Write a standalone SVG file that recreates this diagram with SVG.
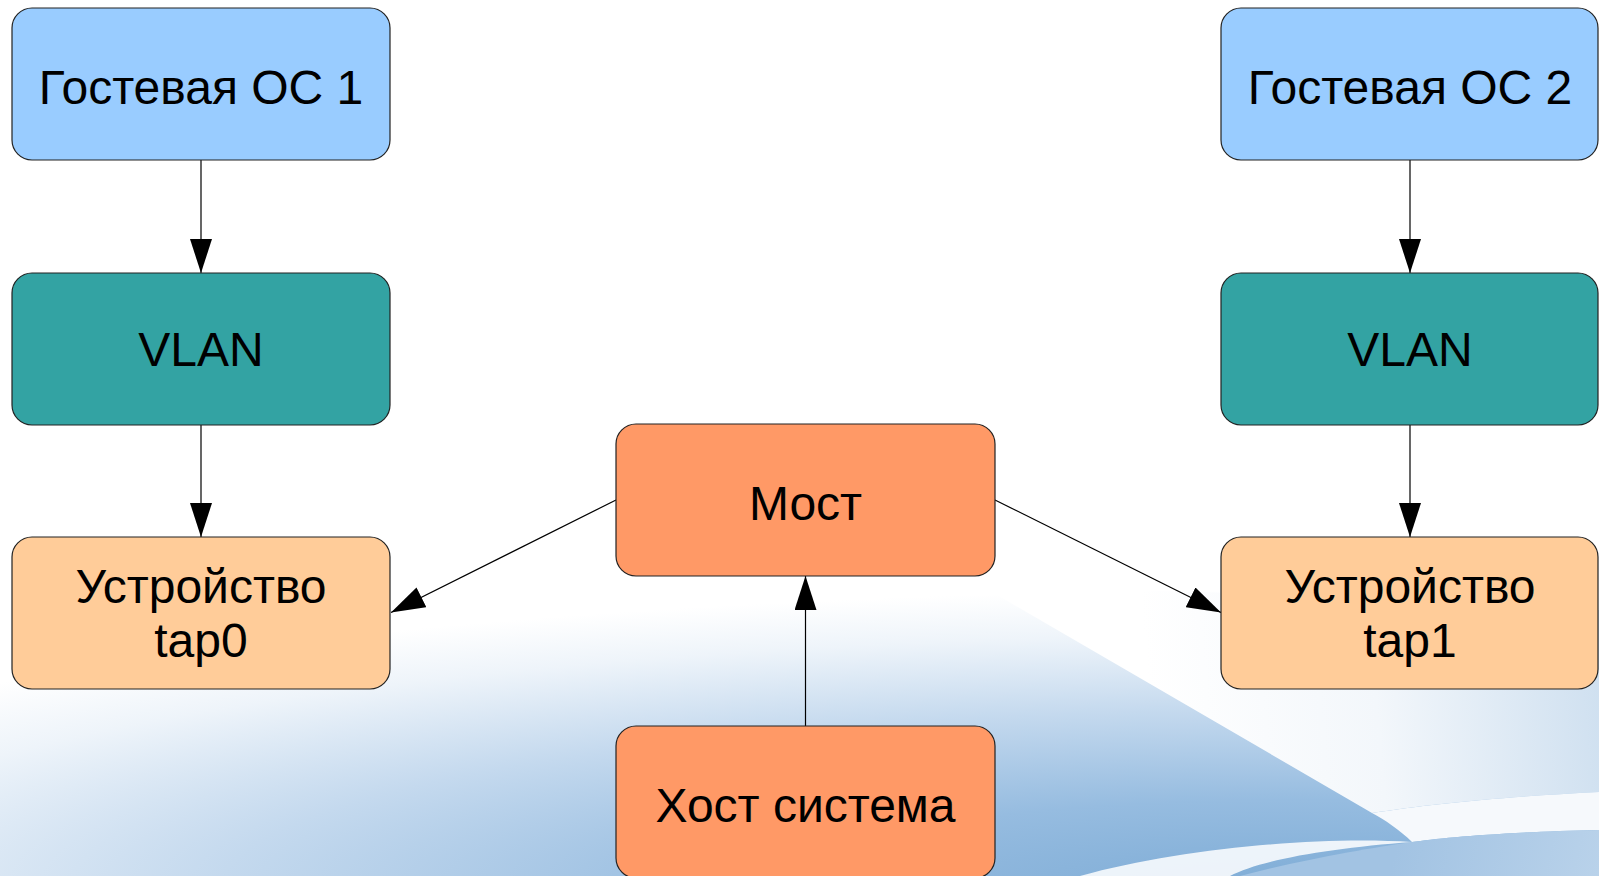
<svg xmlns="http://www.w3.org/2000/svg" width="1599" height="876" viewBox="0 0 1599 876">
<defs>
<style>
.box{stroke:#222;stroke-width:1.2}
.blue{fill:#99ccff}
.teal{fill:#33a3a3}
.lor{fill:#ffcc99}
.or{fill:#ff9966}
.lbl{font-family:"Liberation Sans",Arial,sans-serif;font-size:48px;fill:#000;text-anchor:middle}
.con{stroke:#000;stroke-width:1.2;fill:none;marker-end:url(#ah)}
</style>
<marker id="ah" viewBox="0 0 34 22" refX="34" refY="11" markerWidth="34" markerHeight="22" markerUnits="userSpaceOnUse" orient="auto">
<path d="M0,0 L34,11 L0,22 Z" fill="#000"/>
</marker>
<radialGradient id="bgA" gradientUnits="userSpaceOnUse" cx="0" cy="0" r="1" gradientTransform="translate(1300 890) scale(1800 300)">
<stop offset="0" stop-color="#7eacd6"/>
<stop offset="0.3" stop-color="#96bce0"/>
<stop offset="0.6" stop-color="#c4d9ee"/>
<stop offset="0.85" stop-color="#eef4fa"/>
<stop offset="1" stop-color="#ffffff"/>
</radialGradient>
<linearGradient id="bgB" gradientUnits="userSpaceOnUse" x1="1150" y1="700" x2="1599" y2="660">
<stop offset="0" stop-color="#ffffff"/>
<stop offset="0.5" stop-color="#f3f7fb"/>
<stop offset="1" stop-color="#cfe0f0"/>
</linearGradient>
<linearGradient id="bgC" gradientUnits="userSpaceOnUse" x1="1400" y1="830" x2="1599" y2="876">
<stop offset="0" stop-color="#a2c3e3"/>
<stop offset="1" stop-color="#b9d2ea"/>
</linearGradient>
</defs>
<rect x="0" y="0" width="1599" height="876" fill="#ffffff"/>
<g id="background">
<rect x="0" y="560" width="1599" height="316" fill="url(#bgA)"/>
<path d="M985,588 C1200,590 1450,600 1599,610 L1599,792 C1500,797 1430,804 1372,813 Z" fill="url(#bgB)"/>
<path d="M1372,813 C1430,804 1500,797 1599,792 L1599,830 C1500,832 1440,838 1412,842 C1400,830 1385,820 1372,813 Z" fill="#f6f9fc"/>
<path d="M1412,842 C1440,838 1500,832 1599,830 L1599,876 L1240,876 C1300,860 1370,848 1412,842 Z" fill="url(#bgC)"/>
<path d="M1080,876 C1180,848 1320,836 1412,842 C1330,848 1260,860 1230,876 Z" fill="#f8fbfd" opacity="0.9"/>
</g>
<g id="connectors">
<line class="con" x1="201" y1="160" x2="201" y2="273"/>
<line class="con" x1="201" y1="425" x2="201" y2="537"/>
<line class="con" x1="1410" y1="160" x2="1410" y2="273"/>
<line class="con" x1="1410" y1="425" x2="1410" y2="537"/>
<line class="con" x1="805.5" y1="726" x2="805.5" y2="576"/>
<line class="con" x1="616" y1="500" x2="391" y2="612.5"/>
<line class="con" x1="995" y1="500" x2="1221" y2="612.5"/>
</g>
<g id="guest1">
<rect class="box blue" x="12" y="8" width="378" height="152" rx="20"/>
<text class="lbl" x="201" y="104">Гостевая ОС 1</text>
</g>
<g id="vlan1">
<rect class="box teal" x="12" y="273" width="378" height="152" rx="20"/>
<text class="lbl" x="201" y="366">VLAN</text>
</g>
<g id="tap0">
<rect class="box lor" x="12" y="537" width="378" height="152" rx="20"/>
<text class="lbl" x="201" y="603">Устройство</text>
<text class="lbl" x="201" y="657">tap0</text>
</g>
<g id="guest2">
<rect class="box blue" x="1221" y="8" width="377" height="152" rx="20"/>
<text class="lbl" x="1410" y="104">Гостевая ОС 2</text>
</g>
<g id="vlan2">
<rect class="box teal" x="1221" y="273" width="377" height="152" rx="20"/>
<text class="lbl" x="1410" y="366">VLAN</text>
</g>
<g id="tap1">
<rect class="box lor" x="1221" y="537" width="377" height="152" rx="20"/>
<text class="lbl" x="1410" y="603">Устройство</text>
<text class="lbl" x="1410" y="657">tap1</text>
</g>
<g id="bridge">
<rect class="box or" x="616" y="424" width="379" height="152" rx="20"/>
<text class="lbl" x="805.5" y="520">Мост</text>
</g>
<g id="host">
<rect class="box or" x="616" y="726" width="379" height="152" rx="20"/>
<text class="lbl" x="805.5" y="822">Хост система</text>
</g>
</svg>
